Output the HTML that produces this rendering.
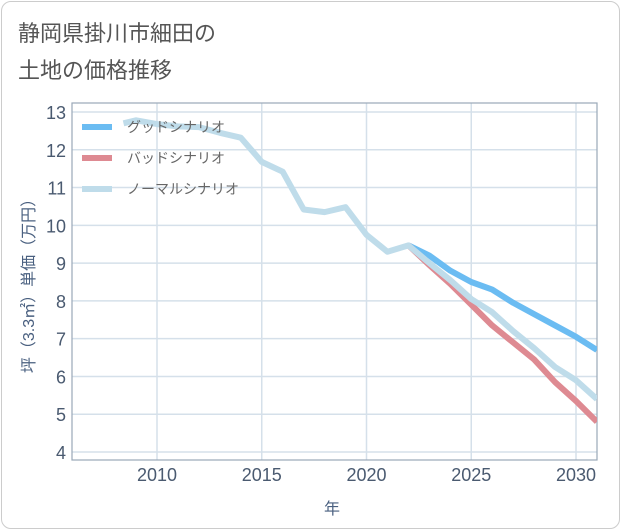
<!DOCTYPE html>
<html><head><meta charset="utf-8"><style>
body{margin:0;background:#fff;font-family:"Liberation Sans","Noto Sans CJK JP",sans-serif}
#card{position:absolute;left:1px;top:1px;width:617px;height:526px;border:1px solid #ccc;border-radius:10px;background:#fff}
</style></head><body>
<div id="card"></div>
<svg id="c" width="621" height="530" style="position:absolute;left:0;top:0">
<text x="18" y="41" font-size="22" fill="#555">静岡県掛川市細田の</text>
<text x="18" y="78" font-size="22" fill="#555">土地の価格推移</text>
<text transform="translate(34,282) rotate(-90)" text-anchor="middle" font-size="16" fill="#4a6080">坪（3.3㎡）単価（万円）</text>
<text x="332" y="514" text-anchor="middle" font-size="16" fill="#4a6080">年</text>
<g id="grid"></g><g id="lines"></g><g id="legend"></g>
</svg>
<script>
const yTicks=[4,5,6,7,8,9,10,11,12,13];
const xTicks=[2010,2015,2020,2025,2030];
const normalYears=[2008.4,2009,2010,2011,2012,2013,2014,2015,2016,2017,2018,2019,2020,2021,2022,2023,2024,2025,2026,2027,2028,2029,2030,2031];
const normalVals=[12.7,12.78,12.68,12.62,12.6,12.45,12.32,11.68,11.42,10.42,10.35,10.48,9.75,9.3,9.47,9.0,8.55,8.05,7.7,7.2,6.75,6.25,5.9,5.4];
const futureYears=[2022,2023,2024,2025,2026,2027,2028,2029,2030,2031];
const goodVals=[9.47,9.2,8.8,8.5,8.3,7.95,7.65,7.35,7.05,6.7];
const badVals=[9.47,8.95,8.45,7.9,7.35,6.9,6.45,5.85,5.35,4.8];
const L=72,R=597,T=103,B=460;
const x=y=>157+(y-2010)*(576-157)/20;
const yv=v=>452-(v-4)*(452-112)/9;
const ns="http://www.w3.org/2000/svg";
function mk(t,a,p){const e=document.createElementNS(ns,t);for(const k in a)e.setAttribute(k,a[k]);p.appendChild(e);return e;}
const g=document.getElementById('grid');
for(const v of yTicks){
 const l=mk('line',{x1:L,x2:R,y1:yv(v),y2:yv(v),stroke:'#d5e0ea','stroke-width':1.5},g);
 
 
 const t=mk('text',{x:L-6,y:yv(v)+7,'text-anchor':'end','font-size':18,fill:'#4a5a70'},g);t.textContent=v;
 
 
}
for(const v of xTicks){
 const l=mk('line',{x1:x(v),x2:x(v),y1:T,y2:B,stroke:'#d5e0ea','stroke-width':1.5},g);
 
 
 const t=mk('text',{x:x(v),y:B+21,'text-anchor':'middle','font-size':18,fill:'#4a5a70'},g);t.textContent=v;
 
 
}
const fr=mk('rect',{x:L,y:T,width:R-L,height:B-T,fill:'none',stroke:'#9aa8b8','stroke-width':1.2},g);


const lg=document.getElementById('lines');
const clip=mk('clipPath',{id:'cp'},lg);mk('rect',{x:L,y:T,width:R-L,height:B-T},clip);
function line(xs,vs,c,name){
 const p=mk('polyline',{points:xs.map((yr,i)=>x(yr)+','+yv(vs[i])).join(' '),fill:'none',stroke:c,'stroke-width':6,'stroke-linejoin':'round','clip-path':'url(#cp)'},lg);
 
 
}
line(futureYears,goodVals,'#6bbcf2','good-scenario-line');
line(futureYears,badVals,'#de8a92','bad-scenario-line');
line(normalYears,normalVals,'#bfdcea','normal-scenario-line');
const leg=document.getElementById('legend');
[['グッドシナリオ','#6bbcf2'],['バッドシナリオ','#de8a92'],['ノーマルシナリオ','#bfdcea']].forEach((d,i)=>{
 const yy=127+i*31;
 const r=mk('rect',{x:82,y:yy-3,width:30,height:6,fill:d[1]},leg);
 
 
 const t=mk('text',{x:127,y:yy+5,'font-size':14,fill:'#666'},leg);t.textContent=d[0];
 
 
});
</script>
</body></html>
